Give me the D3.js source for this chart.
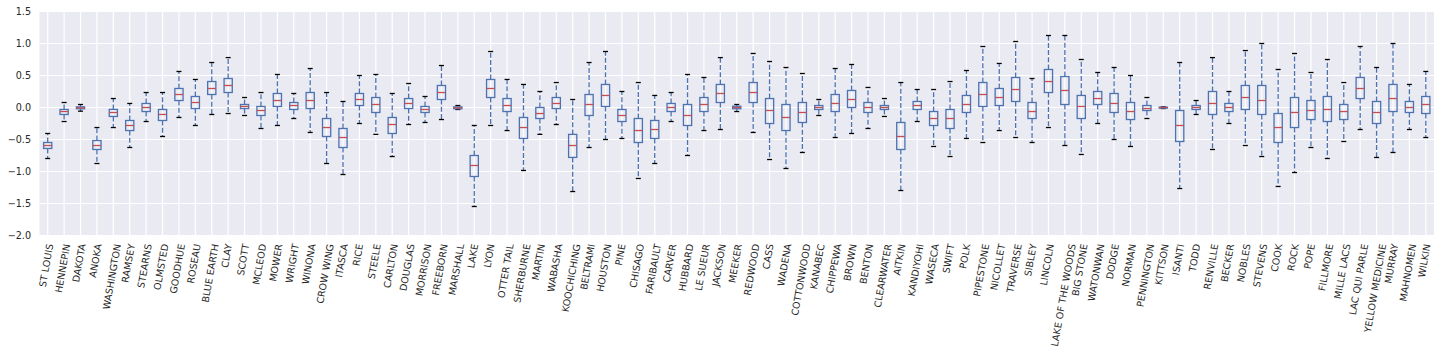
<!DOCTYPE html>
<html>
<head>
<meta charset="utf-8">
<script src="https://cdn.jsdelivr.net/npm/d3@7"></script>
<style>
  html, body { margin: 0; padding: 0; background: #ffffff; }
  svg { display: block; }
  text { font-family: "DejaVu Sans", sans-serif; }
</style>
</head>
<body>
<svg id="chart" width="1440" height="356"></svg>
<script>
const counties = ["ST LOUIS","HENNEPIN","DAKOTA","ANOKA","WASHINGTON","RAMSEY","STEARNS","OLMSTED","GOODHUE","ROSEAU","BLUE EARTH","CLAY","SCOTT","MCLEOD","MOWER","WRIGHT","WINONA","CROW WING","ITASCA","RICE","STEELE","CARLTON","DOUGLAS","MORRISON","FREEBORN","MARSHALL","LAKE","LYON","OTTER TAIL","SHERBURNE","MARTIN","WABASHA","KOOCHICHING","BELTRAMI","HOUSTON","PINE","CHISAGO","FARIBAULT","CARVER","HUBBARD","LE SUEUR","JACKSON","MEEKER","REDWOOD","CASS","WADENA","COTTONWOOD","KANABEC","CHIPPEWA","BROWN","BENTON","CLEARWATER","AITKIN","KANDIYOHI","WASECA","SWIFT","POLK","PIPESTONE","NICOLLET","TRAVERSE","SIBLEY","LINCOLN","LAKE OF THE WOODS","BIG STONE","WATONWAN","DODGE","NORMAN","PENNINGTON","KITTSON","ISANTI","TODD","RENVILLE","BECKER","NOBLES","STEVENS","COOK","ROCK","POPE","FILLMORE","MILLE LACS","LAC QUI PARLE","YELLOW MEDICINE","MURRAY","MAHNOMEN","WILKIN"];

const whiskerLow = [-0.797,-0.219,-0.057,-0.875,-0.313,-0.625,-0.219,-0.453,-0.156,-0.281,-0.109,-0.094,-0.125,-0.328,-0.281,-0.172,-0.39,-0.875,-1.047,-0.25,-0.42,-0.766,-0.266,-0.234,-0.188,-0.031,-1.547,-0.281,-0.36,-0.984,-0.42,-0.266,-1.313,-0.625,-0.5,-0.484,-1.109,-0.875,-0.219,-0.75,-0.36,-0.344,-0.063,-0.39,-0.813,-0.953,-0.703,-0.125,-0.469,-0.406,-0.328,-0.14,-1.297,-0.219,-0.609,-0.766,-0.484,-0.547,-0.36,-0.469,-0.547,-0.313,-0.594,-0.734,-0.25,-0.5,-0.609,-0.172,-0.016,-1.266,-0.109,-0.656,-0.25,-0.594,-0.766,-1.234,-1.016,-0.625,-0.797,-0.531,-0.344,-0.781,-0.703,-0.344,-0.469];
const q1 = [-0.64,-0.109,-0.02,-0.656,-0.14,-0.36,-0.063,-0.203,0.109,-0.016,0.203,0.234,-0.016,-0.125,0.016,-0.031,-0.016,-0.453,-0.625,0.031,-0.078,-0.406,-0.016,-0.078,0.125,-0.02,-1.078,0.156,-0.063,-0.484,-0.172,-0.016,-0.78,-0.125,0.016,-0.219,-0.547,-0.484,-0.063,-0.281,-0.063,0.078,-0.02,0.078,-0.25,-0.36,-0.234,-0.031,-0.063,0,-0.078,-0.031,-0.656,-0.031,-0.281,-0.328,-0.078,0.016,0.031,0.094,-0.172,0.234,0.047,-0.172,0.047,-0.078,-0.188,-0.047,-0.01,-0.531,-0.031,-0.109,-0.063,-0.031,-0.109,-0.547,-0.313,-0.188,-0.219,-0.188,0.14,-0.25,-0.063,-0.078,-0.094];
const medians = [-0.594,-0.063,-0.005,-0.594,-0.078,-0.281,0,-0.109,0.203,0.078,0.297,0.344,0.016,-0.047,0.109,0.031,0.109,-0.313,-0.469,0.125,0.047,-0.266,0.063,-0.031,0.234,-0.005,-0.906,0.297,0.031,-0.313,-0.094,0.063,-0.594,0.047,0.188,-0.125,-0.36,-0.344,0,-0.125,0.047,0.219,0,0.234,-0.047,-0.156,-0.078,0,0.063,0.125,0,0,-0.453,0.031,-0.172,-0.172,0.047,0.203,0.156,0.281,-0.063,0.406,0.266,0.016,0.14,0.063,-0.063,-0.016,0,-0.281,0,0.063,0,0.156,0.109,-0.313,-0.078,-0.047,-0.031,-0.063,0.297,-0.078,0.14,0,0.047];
const q3 = [-0.547,-0.031,0.01,-0.516,-0.03,-0.203,0.063,-0.031,0.297,0.172,0.406,0.453,0.047,0.016,0.219,0.078,0.234,-0.172,-0.328,0.219,0.156,-0.156,0.14,0.016,0.344,0.01,-0.75,0.438,0.14,-0.156,0,0.156,-0.42,0.203,0.36,-0.031,-0.172,-0.203,0.063,0.047,0.156,0.36,0.02,0.39,0.14,0.047,0.078,0.031,0.203,0.266,0.078,0.031,-0.234,0.094,-0.063,-0.031,0.188,0.39,0.297,0.469,0.078,0.594,0.484,0.188,0.25,0.219,0.078,0.031,0.005,-0.047,0.031,0.25,0.063,0.344,0.344,-0.094,0.156,0.109,0.172,0.047,0.469,0.094,0.36,0.094,0.172];
const whiskerHigh = [-0.406,0.078,0.047,-0.313,0.14,0.063,0.234,0.234,0.563,0.438,0.703,0.78,0.156,0.234,0.516,0.219,0.609,0.234,0.094,0.5,0.516,0.219,0.375,0.172,0.656,0.031,-0.281,0.875,0.438,0.36,0.25,0.39,0.125,0.703,0.875,0.25,0.39,0.188,0.234,0.516,0.469,0.78,0.047,0.844,0.719,0.625,0.531,0.125,0.609,0.672,0.313,0.14,0.39,0.281,0.281,0.406,0.578,0.953,0.688,1.031,0.453,1.125,1.125,0.75,0.547,0.625,0.5,0.156,0.01,0.703,0.109,0.78,0.25,0.89,1.0,0.594,0.844,0.547,0.75,0.39,0.953,0.625,1.0,0.36,0.563];

const yTicks = [-2.0, -1.5, -1.0, -0.5, 0.0, 0.5, 1.0, 1.5];

(function draw() {
const pLeft = 39.5, pRight = 1434, pTop = 11.5, pBottom = 235.5;
const fontSize = 9.6;
const svg = d3.select("#chart");

const x = d3.scaleBand().domain(counties).range([pLeft, pRight]).paddingInner(0).paddingOuter(0);
const y = d3.scaleLinear().domain([-2.0, 1.5]).range([pBottom, pTop]);

svg.append("rect").attr("x", pLeft).attr("y", pTop)
  .attr("width", pRight - pLeft).attr("height", pBottom - pTop).attr("fill", "#EAEAF2");

// grid
svg.append("g").selectAll("line").data(yTicks).join("line")
  .attr("x1", pLeft).attr("x2", pRight)
  .attr("y1", d => y(d)).attr("y2", d => y(d))
  .attr("stroke", "#ffffff").attr("stroke-width", 1.2);
svg.append("g").selectAll("line").data(counties).join("line")
  .attr("x1", d => x(d) + x.bandwidth() / 2).attr("x2", d => x(d) + x.bandwidth() / 2)
  .attr("y1", pTop).attr("y2", pBottom)
  .attr("stroke", "#ffffff").attr("stroke-width", 1.2);

// y axis labels
const fmt = d => (d < 0 ? "\u2212" : "") + Math.abs(d).toFixed(1);
const yAxis = d3.axisLeft(y).tickValues(yTicks).tickFormat(fmt).tickSize(0).tickPadding(8.5);
const gy = svg.append("g").attr("transform", `translate(${pLeft},0)`).call(yAxis);
gy.select(".domain").remove();
gy.selectAll("text").attr("font-size", fontSize).attr("fill", "#262626").attr("font-family", "DejaVu Sans");

// boxes
const bw = x.bandwidth() * 0.5;
const capW = 5;
const data = counties.map((c, i) => ({c, lo: whiskerLow[i], q1: q1[i], med: medians[i], q3: q3[i], hi: whiskerHigh[i]}));
const g = svg.append("g");
const cx = d => x(d.c) + x.bandwidth() / 2;

g.selectAll(".wh").data(data).join("line").attr("class", "wh")
  .attr("x1", cx).attr("x2", cx).attr("y1", d => y(d.q3)).attr("y2", d => y(d.hi))
  .attr("stroke", "#4C72B0").attr("stroke-width", 1.3).attr("stroke-dasharray", "5,2.2");
g.selectAll(".wl").data(data).join("line").attr("class", "wl")
  .attr("x1", cx).attr("x2", cx).attr("y1", d => y(d.q1)).attr("y2", d => y(d.lo))
  .attr("stroke", "#4C72B0").attr("stroke-width", 1.3).attr("stroke-dasharray", "5,2.2");
g.selectAll(".ch").data(data).join("line").attr("class", "ch")
  .attr("x1", d => cx(d) - capW / 2).attr("x2", d => cx(d) + capW / 2)
  .attr("y1", d => y(d.hi)).attr("y2", d => y(d.hi))
  .attr("stroke", "#000000").attr("stroke-width", 1.3);
g.selectAll(".cl").data(data).join("line").attr("class", "cl")
  .attr("x1", d => cx(d) - capW / 2).attr("x2", d => cx(d) + capW / 2)
  .attr("y1", d => y(d.lo)).attr("y2", d => y(d.lo))
  .attr("stroke", "#000000").attr("stroke-width", 1.3);
g.selectAll(".bx").data(data).join("rect").attr("class", "bx")
  .attr("x", d => cx(d) - bw / 2).attr("width", bw)
  .attr("y", d => y(d.q3)).attr("height", d => Math.max(0.5, y(d.q1) - y(d.q3)))
  .attr("fill", "none").attr("stroke", "#4C72B0").attr("stroke-width", 1.3);
g.selectAll(".md").data(data).join("line").attr("class", "md")
  .attr("x1", d => cx(d) - bw / 2).attr("x2", d => cx(d) + bw / 2)
  .attr("y1", d => y(d.med)).attr("y2", d => y(d.med))
  .attr("stroke", "#C44E52").attr("stroke-width", 1.3);

// x labels
const xl = svg.append("g").selectAll("text").data(counties).join("text")
  .text(d => d)
  .attr("font-size", fontSize).attr("fill", "#262626").attr("font-family", "DejaVu Sans")
  .attr("text-anchor", "end").attr("dy", "0.35em");
xl.each(function(d) {
  const L = this.getComputedTextLength();
  const px = x(d) + x.bandwidth() / 2 + 0.087 * L - 1.5;
  d3.select(this).attr("transform", `translate(${px},244) rotate(-80)`);
});
})();
</script>
</body>
</html>
